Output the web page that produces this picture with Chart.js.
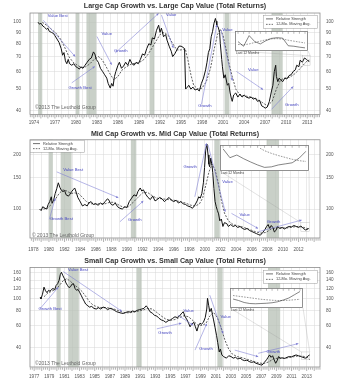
<!DOCTYPE html>
<html>
<head>
<meta charset="utf-8">
<script src="https://cdn.jsdelivr.net/npm/chart.js@4.4.0/dist/chart.umd.min.js"></script>
<style>
  body { margin: 0; background: #fff; width: 350px; height: 383px; overflow: hidden; position: relative; }
  canvas { position: absolute; }
</style>
</head>
<body>
<canvas id="c1" width="350" height="128" style="left:0;top:0"></canvas>
<canvas id="c2" width="350" height="127" style="left:0;top:128px"></canvas>
<canvas id="c3" width="350" height="128" style="left:0;top:255px"></canvas>
<canvas id="i1" width="73" height="20" style="left:235px;top:31px"></canvas>
<canvas id="i2" width="89" height="26" style="left:220px;top:145px"></canvas>
<canvas id="i3" width="73" height="20" style="left:230px;top:288px"></canvas>
<script>
// ---------- Large cap ----------
const lcYears = [1974.6,1974.8,1975.0,1975.3,1975.5,1975.8,1976.0,1976.2,1976.5,1976.8,1977.0,1977.3,1977.6,1977.9,1978.1,1978.3,1978.5,1978.7,1978.9,1979.1,1979.4,1979.7,1980.0,1980.2,1980.5,1980.7,1981.0,1981.3,1981.6,1981.9,1982.2,1982.5,1982.7,1982.9,1983.2,1983.5,1983.8,1984.1,1984.4,1984.6,1984.9,1985.1,1985.3,1985.5,1985.7,1986.0,1986.2,1986.5,1986.8,1987.1,1987.4,1987.7,1988.0,1988.3,1988.6,1988.9,1989.2,1989.5,1989.8,1990.1,1990.4,1990.7,1990.9,1991.2,1991.5,1991.8,1992.0,1992.2,1992.5,1992.8,1993.0,1993.3,1993.6,1993.8,1994.1,1994.4,1994.7,1995.0,1995.3,1995.5,1995.65,1995.9,1996.1,1996.4,1996.7,1997.0,1997.3,1997.6,1997.9,1998.2,1998.5,1998.7,1998.9,1999.1,1999.3,1999.5,1999.7,1999.9,2000.0,2000.1,2000.3,2000.5,2000.6,2000.8,2000.9,2001.1,2001.3,2001.6,2001.8,2002.0,2002.2,2002.3,2002.5,2002.8,2003.1,2003.4,2003.7,2004.0,2004.3,2004.7,2005.0,2005.3,2005.6,2005.9,2006.2,2006.5,2006.8,2007.0,2007.3,2007.6,2007.9,2008.1,2008.3,2008.5,2008.6,2008.8,2009.0,2009.2,2009.5,2009.8,2010.1,2010.4,2010.7,2011.0,2011.3,2011.5,2011.8,2012.0,2012.3,2012.6,2012.9,2013.1,2013.3];
const lcRS = [100,98,99,96,95,93,94,91,90,89,87,84,81,76,71,73,67,65,68,65,64,65,63,62.5,61.5,63,62,64,66,68,69,73.5,72,68,66,62,60,58,56,53,50.5,53,51.5,57,60,64,66,62,63.5,66,64,68,65,64,66,65,68,72,71,76,80,79,85,84,92,97,90,94,86,88,83,78,74,70,72,75,78,78,77,76,50,51,52,50,51,49.5,50,49,53,56,61,66,73,76,86,91,99,104,101,97,95,90,80,68,63,56,58,52,53,48,45,44,47,48,46,47.5,46,47,46,45.5,46,45,45.5,44,44.5,42,41.5,41,41.5,44,49,52,60,64,57,54,56,55,54,56,55.5,57.5,58,60,61,64,63,67.5,66,69,68,67,66.5];
const lcMAYears = [1975.2,1975.8,1976.5,1977.2,1977.8,1978.4,1979.0,1979.6,1980.2,1980.8,1981.4,1982.0,1982.6,1983.2,1983.7,1984.2,1984.8,1985.4,1986.0,1986.6,1987.2,1988.0,1988.8,1989.5,1990.2,1990.8,1991.4,1992.0,1992.6,1993.2,1993.8,1994.4,1995.0,1995.6,1996.0,1996.4,1996.8,1997.4,1998.0,1998.6,1999.2,1999.7,2000.2,2000.6,2001.0,2001.4,2001.8,2002.3,2002.8,2003.4,2004.2,2005.0,2005.8,2006.6,2007.3,2008.0,2008.6,2009.2,2009.8,2010.5,2011.2,2011.8,2012.4,2013.0,2013.3];
const lcMA = [100,97,93,89,84,77,70,66,64,62.5,63,65,68,70,68,64,59,55,57,61,63,65,65.5,67,71,76,82,88,90,87,80,75,75,76,67,58,52,50,50.5,54,62,75,88,93,87,76,66,57,50,47,46.5,46,45,43.5,42,44,50,55,56,56.5,58.5,61,64,67,67.5];
const lcYTicks = [40, 50, 60, 70, 80, 90, 100];
const lcXLabels = [1974,1977,1980,1983,1986,1989,1992,1995,1998,2001,2004,2007,2010,2013];
const lcBands = [[1974.6,1975.2],[1980.0,1980.5],[1981.5,1982.9],[1990.5,1991.2],[2001.2,2001.9],[2007.9,2009.5]];
const lcArrows = [[1975.35,102,1979.9,70],[1979.4,53.3,1982.7,63.2],[1983.0,86.2,1985.1,64.3],[1985.6,72.6,1991.8,109.7],[1992.2,107.8,1993.9,76.5],[2000.7,92.3,2002.3,54.6],[1997.9,42.6,2000.1,97.3],[2002.9,60,2006.7,49.7],[2007.9,40.5,2011.0,51.4]];
const lcNotes = [[1977.4,106.5,'Value Best'],[1980.6,50.6,'Growth Best'],[1984.4,89,'Value'],[1986.4,74,'Growth'],[1993.6,108,'Value'],[2001.6,92,'Value'],[1998.4,42,'Growth'],[2005.3,61,'Value'],[2010.8,42.6,'Growth']];
const lcInsetRS = [32,12,58,32,22,36,46,49,47,14,12,8,5];
const lcInsetMA = [20,18,22,28,34,40,44,45,43,38,34,30,26];

// ---------- Mid cap ----------
const mcYears = [1978.8,1979.0,1979.2,1979.5,1979.7,1979.9,1980.1,1980.3,1980.4,1980.6,1980.8,1981.0,1981.2,1981.4,1981.6,1981.8,1982.0,1982.2,1982.5,1982.7,1982.9,1983.1,1983.3,1983.5,1983.7,1983.9,1984.1,1984.3,1984.6,1984.9,1985.1,1985.4,1985.7,1986.0,1986.3,1986.6,1986.9,1987.2,1987.5,1987.7,1987.9,1988.2,1988.5,1988.8,1989.1,1989.4,1989.7,1990.0,1990.3,1990.6,1990.9,1991.2,1991.4,1991.7,1991.9,1992.1,1992.4,1992.7,1993.0,1993.3,1993.6,1993.9,1994.2,1994.5,1994.8,1995.1,1995.4,1995.7,1996.0,1996.3,1996.6,1996.9,1997.2,1997.5,1997.8,1998.1,1998.4,1998.7,1999.0,1999.2,1999.4,1999.6,1999.8,1999.95,2000.1,2000.25,2000.4,2000.5,2000.6,2000.75,2000.9,2001.0,2001.15,2001.3,2001.45,2001.6,2001.75,2001.9,2002.1,2002.3,2002.5,2002.8,2003.0,2003.3,2003.6,2003.9,2004.2,2004.5,2004.8,2005.1,2005.4,2005.7,2006.0,2006.3,2006.6,2006.9,2007.1,2007.4,2007.7,2007.9,2008.1,2008.3,2008.5,2008.7,2008.9,2009.1,2009.3,2009.6,2009.9,2010.2,2010.5,2010.8,2011.1,2011.4,2011.7,2012.0,2012.3,2012.6,2012.9,2013.1,2013.3];
const mcRS = [100,98,103,101,100,106,110,117,108,112,122,130,140,132,127,125,127,120,118,121,125,128,131,124,116,112,108,104,106,104,108,110,106,107,105,108,106,110,114,112,107,105,108,103,101,100,103,102,110,115,120,118,125,131,126,128,121,116,113,118,111,113,116,114,110,113,116,112,110,112,108,110,107,106,104,103,101,105,111,117,115,122,140,170,213,230,200,178,172,192,175,160,130,110,103,98,94,86,88,80,84,83,80,82,80,81,79,80,78,77,78,76,75,74,73,72,71.5,74,77,80,82,78,81,79,74.5,76,80,78,79,77.5,79,80,79.5,81,80,79,80.5,78,76.5,77,78];
const mcMAYears = [1979.3,1979.8,1980.3,1980.8,1981.3,1981.8,1982.3,1982.8,1983.3,1983.8,1984.3,1984.8,1985.4,1986.0,1986.6,1987.2,1987.8,1988.4,1989.0,1989.6,1990.2,1990.8,1991.4,1992.0,1992.6,1993.2,1993.8,1994.5,1995.2,1996.0,1996.8,1997.5,1998.2,1998.8,1999.3,1999.7,2000.1,2000.5,2000.9,2001.3,2001.7,2002.1,2002.5,2003.0,2003.6,2004.3,2005.0,2005.7,2006.4,2007.1,2007.8,2008.5,2009.2,2009.9,2010.6,2011.3,2012.0,2012.7,2013.3];
const mcMA = [100,101,106,113,122,128,126,122,123,122,116,110,107,107,107,107,109,109,105,102,103,109,116,123,124,119,115,114,113,112,110,108,105,104,107,115,135,160,178,165,140,112,95,86,82,80.5,79,77,75,73.5,74,77.5,78.5,78.5,78.5,79.5,80,79,77.5];
const mcYTicks = [100, 150, 200];
const mcXLabels = [1978,1980,1982,1984,1986,1988,1990,1992,1994,1996,1998,2000,2002,2004,2006,2008,2010,2012];
const mcBands = [[1980.0,1980.5],[1981.5,1982.9],[1990.5,1991.2],[2001.2,2001.9],[2007.9,2009.5]];
const mcArrows = [[1981.0,161,1988.9,115.6],[1980.05,87.6,1980.8,114.7],[1989.1,85,1992.1,110.8],[1998.7,117,2000.2,232],[2000.4,227,2002.6,96.6],[2003.4,94.6,2006.8,78],[2006.8,74.7,2012.4,86.8]];
const mcNotes = [[1983.1,165,'Value Best'],[1981.6,88.7,'Growth Best'],[1991.0,86.8,'Growth'],[1998.1,172,'Growth'],[2002.9,141,'Value'],[2005.1,93.4,'Value'],[2008.8,85,'Growth']];
const mcInsetRS = [75,42,52,38,26,15,6,8,15,19,23,40,66];
const mcInsetMA = [null,null,null,null,null,82,68,58,50,43,36,31,28];

// ---------- Small cap ----------
const scYears = [1977.8,1977.9,1978.1,1978.3,1978.5,1978.7,1978.9,1979.1,1979.3,1979.5,1979.7,1979.9,1980.1,1980.3,1980.45,1980.6,1980.8,1981.0,1981.2,1981.4,1981.6,1981.8,1982.0,1982.2,1982.4,1982.6,1982.8,1983.0,1983.2,1983.4,1983.6,1983.8,1984.0,1984.3,1984.6,1984.9,1985.2,1985.5,1985.8,1986.1,1986.4,1986.7,1987.0,1987.3,1987.6,1987.9,1988.2,1988.5,1988.8,1989.1,1989.4,1989.7,1990.0,1990.3,1990.6,1990.9,1991.2,1991.5,1991.8,1992.0,1992.3,1992.6,1992.9,1993.2,1993.5,1993.8,1994.1,1994.4,1994.7,1995.0,1995.3,1995.6,1995.9,1996.2,1996.5,1996.7,1996.9,1997.2,1997.4,1997.6,1997.8,1998.1,1998.3,1998.5,1998.7,1998.9,1999.1,1999.35,1999.6,1999.8,1999.9,2000.05,2000.2,2000.4,2000.55,2000.7,2000.9,2001.1,2001.25,2001.45,2001.6,2001.8,2002.0,2002.2,2002.4,2002.7,2003.0,2003.3,2003.6,2003.9,2004.2,2004.5,2004.8,2005.1,2005.4,2005.7,2006.0,2006.3,2006.6,2006.9,2007.1,2007.4,2007.7,2007.9,2008.1,2008.3,2008.5,2008.7,2008.9,2009.1,2009.3,2009.5,2009.8,2010.1,2010.4,2010.7,2011.0,2011.3,2011.6,2011.9,2012.2,2012.5,2012.8,2013.0,2013.2,2013.4];
const scRS = [102,99,108,123,115,111,116,114,118,120,117,127,131,140,155,162,152,144,133,127,122,124,130,131,120,116,118,112,106,100,95,90,88,85,86,83,82,84,82,85,84,81,83,82,80,78,77,76,75.5,77,78,77.5,79,78,80,81,82,83,87,84,78,76,73,72,69,67,66,64,66,67,69,71,70,72,76,78,72,67,63,59,62,64,59,54.5,60,63,62,64,70,82,100,88,78,83,74,67,58,50,44,37,39,35,34,33.5,33,34.5,34,33,33.5,32.5,33,32,31.5,31.8,31,30.5,30.8,30,29.6,29.2,29,30.5,32,33.5,35,33.5,34.5,32,30,31.5,34,33,33.2,32.8,33.5,34,33.8,34.5,35,34.5,34,33.5,33,33.2,34.5,35];
const scMAYears = [1978.3,1978.8,1979.3,1979.8,1980.3,1980.8,1981.3,1981.8,1982.3,1982.8,1983.3,1983.8,1984.3,1984.8,1985.4,1986.0,1986.6,1987.2,1987.8,1988.4,1989.0,1989.6,1990.2,1990.8,1991.4,1992.0,1992.6,1993.2,1993.8,1994.4,1995.0,1995.6,1996.2,1996.8,1997.4,1998.0,1998.6,1999.2,1999.7,2000.2,2000.7,2001.2,2001.7,2002.2,2002.7,2003.2,2003.8,2004.5,2005.2,2005.9,2006.6,2007.3,2008.0,2008.6,2009.2,2009.8,2010.5,2011.2,2011.8,2012.5,2013.1,2013.4];
const scMA = [103,110,114,118,126,138,144,137,128,122,114,104,94,88,85,84,84,83,81,78.5,76.5,76.5,77.5,79,80.5,83,82,77,72,68,66.5,67.5,70,72.5,71,66,61,60.5,63,72,77,70,58,46,39,35.5,34,33.2,32.2,31.2,30.3,29.8,30.8,32.5,33,32.8,33.2,33.8,34.3,34.2,33.5,32];
const scYTicks = [40, 60, 80, 100, 120, 140, 160];
const scXLabels = [1977,1979,1981,1983,1985,1987,1989,1991,1993,1995,1997,1999,2001,2003,2005,2007,2009,2011,2013];
const scBands = [[1980.0,1980.5],[1981.5,1982.9],[1990.5,1991.2],[2001.2,2001.9],[2007.9,2009.5]];
const scArrows = [[1980.85,164,1988.6,78.5],[1977.8,82.8,1980.2,123],[1993.2,56.8,1996.45,63.1],[1996.0,73.1,1998.0,60.8],[1998.25,38.3,1999.8,62.5],[2000.2,106,2001.95,52],[2003.5,38.3,2006.6,33.9],[2006.6,36.1,2011.9,43.2]];
const scNotes = [[1982.8,168,'Value Best'],[1979.1,82.8,'Growth Best'],[1994.3,53,'Growth'],[1997.4,79.3,'Value'],[1999.7,39.1,'Growth'],[2002.3,71,'Value'],[2008.6,37.3,'Growth']];
const scInsetRS = [28,22,14,10,9,10,11,13,17,24,32,45,58];
const scInsetMA = [42,39,36,33,30,27,25,23,22,22,23,25,27];

const insetMonths = ['A','M','J','J','A','S','O','N','D','J','F','M','A'];

const FONT = 'Liberation Sans, Arial, sans-serif';
const BLUE_TEXT = '#4646c0';
const BLUE_LINE = 'rgba(120,120,210,0.9)';
const BAND = 'rgba(183,192,181,0.75)';

function arrow(ctx, x1, y1, x2, y2) {
  ctx.beginPath(); ctx.moveTo(x1, y1); ctx.lineTo(x2, y2); ctx.stroke();
  const a = Math.atan2(y2 - y1, x2 - x1), L = 2.6;
  ctx.beginPath();
  ctx.moveTo(x2, y2);
  ctx.lineTo(x2 - L * Math.cos(a - 0.5), y2 - L * Math.sin(a - 0.5));
  ctx.lineTo(x2 - L * Math.cos(a + 0.5), y2 - L * Math.sin(a + 0.5));
  ctx.closePath(); ctx.fill();
}

function makePanel(id, p) {
  const deco = {
    id: 'deco',
    beforeDatasetsDraw(chart) {
      const { ctx, chartArea: a, scales: { x } } = chart;
      ctx.save();
      ctx.fillStyle = BAND;
      p.bands.forEach(([s, e]) => {
        const x1 = x.getPixelForValue(s), x2 = x.getPixelForValue(e);
        ctx.fillRect(x1, a.top, x2 - x1, a.bottom - a.top);
      });
      ctx.restore();
    },
    afterDatasetsDraw(chart) {
      const { ctx, chartArea: a, scales: { x, y } } = chart;
      ctx.save();
      // arrows + notes
      ctx.strokeStyle = BLUE_LINE; ctx.fillStyle = BLUE_LINE; ctx.lineWidth = 0.6;
      p.arrows.forEach(([x1, y1, x2, y2]) =>
        arrow(ctx, x.getPixelForValue(x1), y.getPixelForValue(y1), x.getPixelForValue(x2), y.getPixelForValue(y2)));
      ctx.fillStyle = BLUE_TEXT; ctx.font = '4.2px ' + FONT;
      ctx.textAlign = 'center'; ctx.textBaseline = 'middle';
      p.notes.forEach(([nx, ny, t]) => ctx.fillText(t, x.getPixelForValue(nx), y.getPixelForValue(ny)));
      // connector from inset to the last 12 months
      ctx.strokeStyle = 'rgba(150,150,150,0.7)'; ctx.lineWidth = 0.4;
      const ex1 = x.getPixelForValue(2012.3), ex2 = x.getPixelForValue(2013.4);
      const ey = y.getPixelForValue(p.endVal);
      ctx.beginPath();
      ctx.moveTo(p.inset[0], p.inset[1] + p.inset[3]); ctx.lineTo(ex1, ey);
      ctx.moveTo(p.inset[0] + p.inset[2], p.inset[1] + p.inset[3]); ctx.lineTo(ex2, ey);
      ctx.stroke();
      ctx.strokeRect(ex1, ey, ex2 - ex1, y.getPixelForValue(p.endLow) - ey);
      // plot frame
      ctx.strokeStyle = '#8c8c8c'; ctx.lineWidth = 0.8;
      ctx.strokeRect(a.left, a.top, a.right - a.left, a.bottom - a.top);
      // minor ticks on the date axis
      ctx.strokeStyle = '#666'; ctx.lineWidth = 0.5;
      ctx.beginPath();
      for (let q = Math.ceil(x.min * 4) / 4; q <= x.max; q += 0.25) {
        const px = x.getPixelForValue(q), len = Number.isInteger(q) ? 3.5 : 2.2;
        ctx.moveTo(px, a.bottom + 0.5); ctx.lineTo(px, a.bottom + 0.5 + len);
      }
      ctx.stroke();
      // legend
      const [lx, ly, lw, lh] = p.legend;
      ctx.fillStyle = '#fff'; ctx.fillRect(lx, ly, lw, lh);
      ctx.strokeStyle = '#999'; ctx.lineWidth = 0.5; ctx.strokeRect(lx + 0.25, ly + 0.25, lw, lh);
      ctx.strokeStyle = '#333'; ctx.lineWidth = 0.7;
      ctx.beginPath(); ctx.moveTo(lx + 3, ly + lh * 0.3); ctx.lineTo(lx + 10, ly + lh * 0.3); ctx.stroke();
      ctx.setLineDash([1.6, 1.2]);
      ctx.beginPath(); ctx.moveTo(lx + 3, ly + lh * 0.72); ctx.lineTo(lx + 10, ly + lh * 0.72); ctx.stroke();
      ctx.setLineDash([]);
      ctx.fillStyle = '#444'; ctx.font = '3.9px ' + FONT; ctx.textAlign = 'left';
      ctx.fillText('Relative Strength', lx + 13, ly + lh * 0.3);
      ctx.fillText('12-Mo. Moving Avg.', lx + 13, ly + lh * 0.72);
      // copyright + inset caption
      ctx.fillStyle = '#666'; ctx.font = '5px ' + FONT;
      ctx.fillText(p.copy, p.copyAt[0], p.copyAt[1]);
      ctx.fillStyle = '#444'; ctx.font = '3.4px ' + FONT;
      ctx.fillText('Last 12 Months', p.inset[0] + 1, p.inset[1] + p.inset[3] + 2.5);
      ctx.restore();
    }
  };

  const tickFont = { family: FONT, size: 4.6 };
  const yAxis = (pos, grid) => ({
    type: 'logarithmic', position: pos, min: p.yMin, max: p.yMax,
    afterBuildTicks: s => { s.ticks = p.yTicks.map(v => ({ value: v })); },
    afterFit: s => { s.width = 30; },
    grid: { display: grid, color: '#d6d6d6', lineWidth: 0.5, drawTicks: false },
    border: { display: false },
    ticks: { font: tickFont, color: '#555', padding: pos === 'left' ? 9 : 6, callback: v => String(v) }
  });

  new Chart(document.getElementById(id), {
    type: 'line',
    data: {
      datasets: [
        { data: p.years.map((yr, i) => ({ x: yr, y: p.rs[i] })), borderColor: '#111', borderWidth: 1, pointRadius: 0, yAxisID: 'y' },
        { data: p.maYears.map((yr, i) => ({ x: yr, y: p.ma[i] })), borderColor: '#3a3a3a', borderWidth: 0.8, borderDash: [2, 1.4], pointRadius: 0, yAxisID: 'y' }
      ]
    },
    options: {
      responsive: false, animation: false, events: [],
      layout: { padding: 0 },
      plugins: {
        legend: { display: false }, tooltip: { enabled: false },
        title: { display: true, text: p.title, color: '#333', font: { family: FONT, size: 7.1, weight: 'bold' }, padding: p.titlePad }
      },
      scales: {
        x: {
          type: 'linear', min: p.xMin, max: p.xMax,
          afterBuildTicks: s => {
            const t = [];
            for (let yr = Math.ceil(s.min); yr <= s.max; yr++) t.push({ value: yr });
            s.ticks = t;
          },
          afterFit: s => { s.height = p.xHeight; },
          grid: { color: '#d6d6d6', lineWidth: 0.5, drawTicks: false },
          border: { display: false },
          ticks: { font: tickFont, color: '#555', padding: p.xPad, autoSkip: false, maxRotation: 0,
                   callback: v => p.xLabels.includes(v) ? String(v) : '' }
        },
        y: yAxis('left', true),
        y2: yAxis('right', false)
      }
    },
    plugins: [deco]
  });
}

const insetFrame = {
  id: 'insetFrame',
  beforeDraw(chart) {
    const { ctx, width, height } = chart;
    ctx.save(); ctx.fillStyle = '#fff'; ctx.fillRect(0, 0, width, height); ctx.restore();
  },
  afterDraw(chart) {
    const { ctx, width, height, scales: { x } } = chart;
    ctx.save();
    ctx.strokeStyle = '#777'; ctx.lineWidth = 0.8;
    ctx.strokeRect(0.5, 0.5, width - 1, height - 1);
    ctx.lineWidth = 0.5; ctx.beginPath();
    insetMonths.forEach((m, i) => { const px = x.getPixelForValue(i); ctx.moveTo(px, 0.5); ctx.lineTo(px, 2.8); });
    ctx.stroke(); ctx.restore();
  }
};

function makeInset(id, rs, ma, yMax) {
  new Chart(document.getElementById(id), {
    type: 'line',
    data: {
      labels: insetMonths,
      datasets: [
        { data: rs, borderColor: '#333', borderWidth: 0.6, pointRadius: 0 },
        { data: ma, borderColor: '#555', borderWidth: 0.6, borderDash: [1.6, 1.2], pointRadius: 0 }
      ]
    },
    options: {
      responsive: false, animation: false, events: [],
      layout: { padding: { top: 3, bottom: 2, left: 3, right: 3 } },
      plugins: { legend: { display: false }, tooltip: { enabled: false } },
      scales: { x: { display: false }, y: { display: false, min: 0, max: yMax } }
    },
    plugins: [insetFrame]
  });
}

makePanel('c1', {
  title: 'Large Cap Growth vs. Large Cap Value (Total Returns)', titlePad: { top: 2, bottom: 2.5 },
  years: lcYears, rs: lcRS, maYears: lcMAYears, ma: lcMA,
  xMin: 1973.45, xMax: 2014.82, yMin: 38.4, yMax: 110, yTicks: lcYTicks, xLabels: lcXLabels,
  xHeight: 13.5, xPad: 5, bands: lcBands, arrows: lcArrows, notes: lcNotes,
  legend: [263, 15, 54, 13], inset: [235, 31, 73, 20], endVal: 71, endLow: 64,
  copy: '\u00a92013 The Leuthold Group', copyAt: [35, 108]
});
makePanel('c2', {
  title: 'Mid Cap Growth vs. Mid Cap Value (Total Returns)', titlePad: { top: 1.5, bottom: 1.5 },
  years: mcYears, rs: mcRS, maYears: mcMAYears, ma: mcMA,
  xMin: 1977.57, xMax: 2014.75, yMin: 69, yMax: 243, yTicks: mcYTicks, xLabels: mcXLabels,
  xHeight: 17, xPad: 8.5, bands: mcBands, arrows: mcArrows, notes: mcNotes,
  legend: [30, 12, 54, 12], inset: [220, 17, 89, 26], endVal: 84, endLow: 75,
  copy: '\u00a9 2013 The Leuthold Group', copyAt: [32, 108]
});
makePanel('c3', {
  title: 'Small Cap Growth vs. Small Cap Value (Total Returns)', titlePad: { top: 2, bottom: 2 },
  years: scYears, rs: scRS, maYears: scMAYears, ma: scMA,
  xMin: 1976.45, xMax: 2014.76, yMin: 28, yMax: 177, yTicks: scYTicks, xLabels: scXLabels,
  xHeight: 16, xPad: 7, bands: scBands, arrows: scArrows, notes: scNotes,
  legend: [263, 15, 54, 13], inset: [230, 33, 73, 20], endVal: 37, endLow: 32,
  copy: '\u00a92013 The Leuthold Group', copyAt: [35, 109]
});
makeInset('i1', lcInsetRS, lcInsetMA, 65);
makeInset('i2', mcInsetRS, mcInsetMA, 78);
makeInset('i3', scInsetRS, scInsetMA, 60);
</script>
</body>
</html>
